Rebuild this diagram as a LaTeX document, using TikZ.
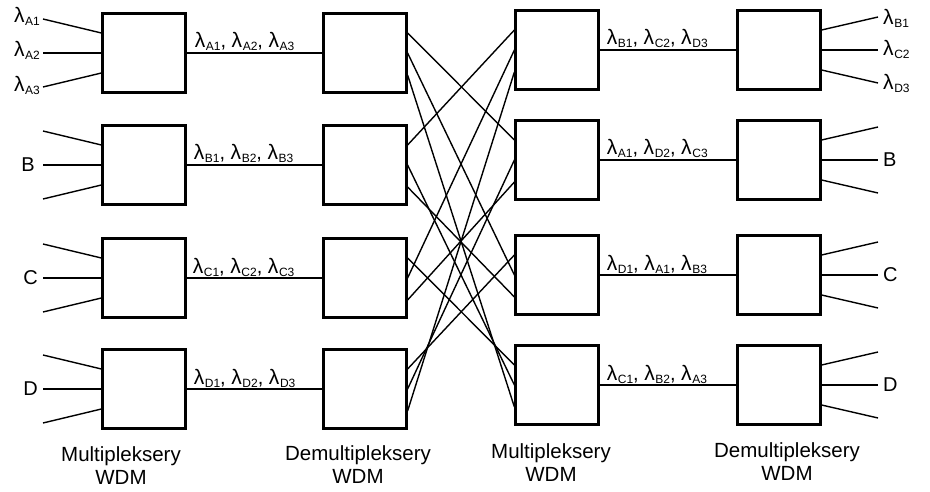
\documentclass[tikz,border=0pt]{standalone}
\usepackage{fontspec}
\setmainfont{Liberation Sans}
\usetikzlibrary{calc}
\newcommand\lsub[1]{{\fontsize{21}{22}\selectfont λ}\kern0.6pt\raisebox{-3pt}{\fontsize{12}{12}\selectfont #1}}
\begin{document}
\begin{tikzpicture}[x=1pt,y=-1pt,
  wbox/.style={draw, line width=2.2pt, minimum width=83pt, minimum height=79pt, inner sep=0pt},
  ln/.style={line width=1.4pt},
  lbl/.style={font=\fontsize{20}{22}\selectfont, inner sep=0pt},
  captxt/.style={font=\fontsize{20.5}{23}\selectfont, align=center, inner sep=0pt, anchor=north}]
\useasboundingbox[fill=white] (0,0) rectangle (930,492);
% left pair: multiplexers and demultiplexers
\foreach \r/\y in {A/53,B/165,C/278,D/389}{
  \node[wbox] (m1\r) at (144,\y) {};
  \node[wbox] (d1\r) at (365,\y) {};
  \draw[ln] (m1\r.east) -- (d1\r.west);
  \coordinate (in\r1) at (43,\y-34);
  \coordinate (in\r2) at (43,\y);
  \coordinate (in\r3) at (43,\y+34);
  \draw[ln] (in\r1) -- ($(m1\r.west)+(0,-20)$);
  \draw[ln] (in\r2) -- (m1\r.west);
  \draw[ln] (in\r3) -- ($(m1\r.west)+(0,20)$);
  \coordinate (d1\r p1) at ($(d1\r.east)+(0,-20)$);
  \coordinate (d1\r p2) at (d1\r.east);
  \coordinate (d1\r p3) at ($(d1\r.east)+(0,22)$);
}
% right pair
\foreach \r/\y in {A/50,B/160,C/275,D/385}{
  \node[wbox] (m2\r) at (557,\y) {};
  \node[wbox] (d2\r) at (779,\y) {};
  \draw[ln] (m2\r.east) -- (d2\r.west);
  \coordinate (out\r1) at (878,\y-33);
  \coordinate (out\r2) at (878,\y);
  \coordinate (out\r3) at (878,\y+33);
  \draw[ln] ($(d2\r.east)+(0,-20)$) -- (out\r1);
  \draw[ln] (d2\r.east) -- (out\r2);
  \draw[ln] ($(d2\r.east)+(0,20)$) -- (out\r3);
  \coordinate (m2\r p1) at ($(m2\r.west)+(0,-20)$);
  \coordinate (m2\r p2) at (m2\r.west);
  \coordinate (m2\r p3) at ($(m2\r.west)+(0,22)$);
}
% cross connections
\foreach \a/\b in {Ap1/Bp1, Ap2/Cp2, Ap3/Dp3, Bp1/Ap1, Bp2/Dp2, Bp3/Cp3,
                   Cp1/Dp1, Cp2/Ap2, Cp3/Bp3, Dp1/Cp1, Dp2/Bp2, Dp3/Ap3}{
  \draw[ln] (d1\a) -- (m2\b);
}
% left labels
\node[lbl, anchor=base east] (la1) at ($(inA1)+(-3,4)$) {\lsub{A1}};
\node[lbl, anchor=base east] (la2) at ($(inA2)+(-3,4)$) {\lsub{A2}};
\node[lbl, anchor=base east] (la3) at ($(inA3)+(-3,5)$) {\lsub{A3}};
\node[lbl, anchor=east] (lb) at ($(inB2)+(-8,0)$) {B};
\node[lbl, anchor=east] (lc) at ($(inC2)+(-5,0)$) {C};
\node[lbl, anchor=east] (ld) at ($(inD2)+(-5,0)$) {D};
% right labels
\node[lbl, anchor=base west] (rb1) at ($(outA1)+(5,8)$) {\lsub{B1}};
\node[lbl, anchor=base west] (rc2) at ($(outA2)+(5,6)$) {\lsub{C2}};
\node[lbl, anchor=base west] (rd3) at ($(outA3)+(5,7)$) {\lsub{D3}};
\node[lbl, anchor=west] (rb) at ($(outB2)+(5,0)$) {B};
\node[lbl, anchor=west] (rc) at ($(outC2)+(5,0)$) {C};
\node[lbl, anchor=west] (rd) at ($(outD2)+(5,0)$) {D};
% line labels
\node[lbl, anchor=base west] (ta) at ($(m1A.east)+(8,-5)$) {\lsub{A1}, \lsub{A2}, \lsub{A3}};
\node[lbl, anchor=base west] (tb) at ($(m1B.east)+(7,-5)$) {\lsub{B1}, \lsub{B2}, \lsub{B3}};
\node[lbl, anchor=base west] (tc) at ($(m1C.east)+(6,-5)$) {\lsub{C1}, \lsub{C2}, \lsub{C3}};
\node[lbl, anchor=base west] (td) at ($(m1D.east)+(7,-5)$) {\lsub{D1}, \lsub{D2}, \lsub{D3}};
\node[lbl, anchor=base west] (ua) at ($(m2A.east)+(7,-5)$) {\lsub{B1}, \lsub{C2}, \lsub{D3}};
\node[lbl, anchor=base west] (ub) at ($(m2B.east)+(7,-5)$) {\lsub{A1}, \lsub{D2}, \lsub{C3}};
\node[lbl, anchor=base west] (uc) at ($(m2C.east)+(7,-5)$) {\lsub{D1}, \lsub{A1}, \lsub{B3}};
\node[lbl, anchor=base west] (ud) at ($(m2D.east)+(7,-5)$) {\lsub{C1}, \lsub{B2}, \lsub{A3}};
% captions
\node[captxt] (c1) at (121,446) {Multipleksery\\WDM};
\node[captxt] (c2) at (358,445) {Demultipleksery\\WDM};
\node[captxt] (c3) at (551,443) {Multipleksery\\WDM};
\node[captxt] (c4) at (787,442) {Demultipleksery\\WDM};
\end{tikzpicture}
\end{document}
